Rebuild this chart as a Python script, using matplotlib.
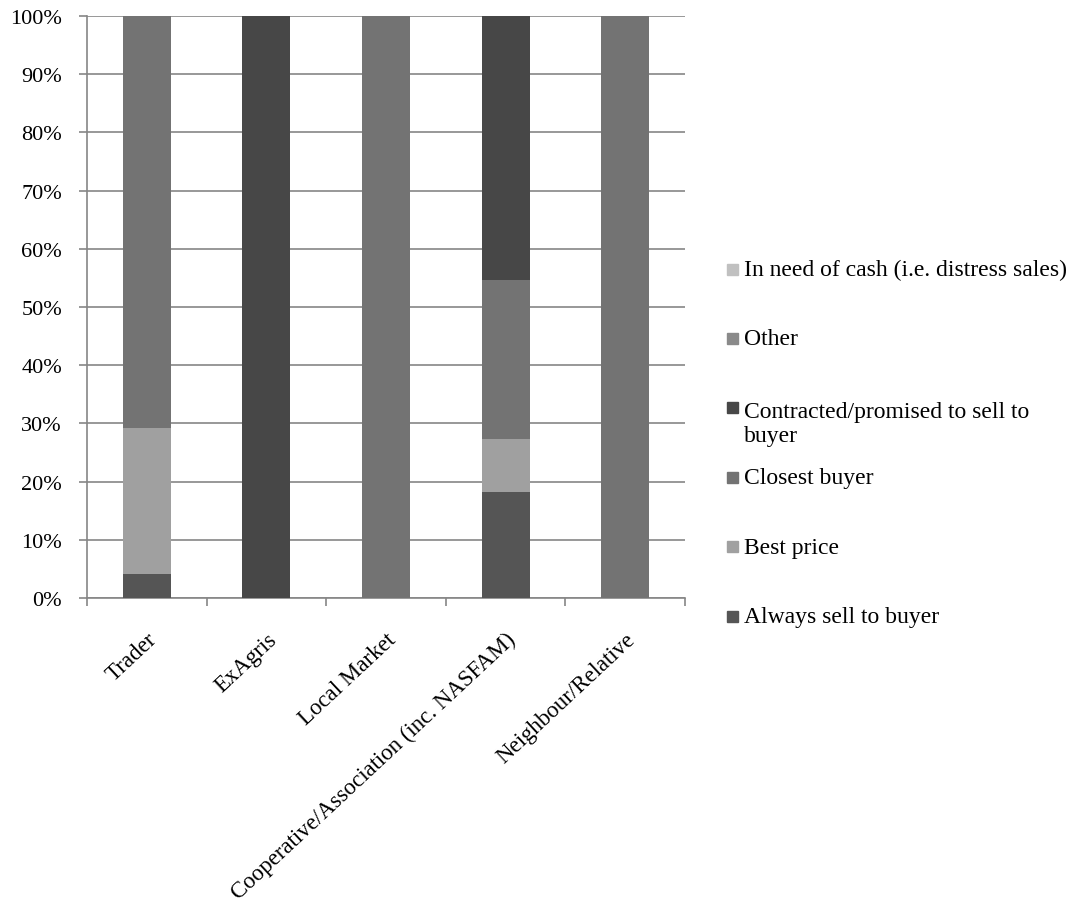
import matplotlib
matplotlib.use('Agg')
import matplotlib.pyplot as plt
from matplotlib.patches import Rectangle
from matplotlib.ticker import PercentFormatter, FixedLocator, NullFormatter
import numpy as np

# buyer types on the x axis
buyers = ['Trader', 'ExAgris', 'Local Market',
          'Cooperative/Association (inc. NASFAM)', 'Neighbour/Relative']

# share of responses per reason (%), stacked bottom to top
always_sell = [4.2, 0.0, 0.0, 18.2, 0.0]
best_price = [25.0, 0.0, 0.0, 9.1, 0.0]
closest_buyer = [70.8, 0.0, 100.0, 27.3, 100.0]
contracted = [0.0, 100.0, 0.0, 45.4, 0.0]
other = [0.0, 0.0, 0.0, 0.0, 0.0]
need_cash = [0.0, 0.0, 0.0, 0.0, 0.0]

series = [
    ('Always sell to buyer', always_sell, '#555555'),
    ('Best price', best_price, '#a0a0a0'),
    ('Closest buyer', closest_buyer, '#737373'),
    ('Contracted/promised to sell to\nbuyer', contracted, '#474747'),
    ('Other', other, '#8a8a8a'),
    ('In need of cash (i.e. distress sales)', need_cash, '#c0c0c0'),
]

plt.rcParams['font.family'] = ['Liberation Serif', 'DejaVu Serif']
W, H = 1075, 912

fig = plt.figure(figsize=(W / 100, H / 100), dpi=100)
ax = fig.add_axes([87 / W, 1 - 599 / H, 598 / W, 582 / H])

x = np.arange(len(buyers))
bottom = np.zeros(len(buyers))
for label, vals, col in series:
    vals = np.array(vals)
    ax.bar(x, vals, width=0.4, bottom=bottom, color=col, edgecolor='none', zorder=3)
    bottom += vals

ax.set_xlim(-0.5, len(buyers) - 0.5)
ax.set_ylim(0, 100)
ax.set_yticks(np.arange(0, 101, 10))
ax.yaxis.set_major_formatter(PercentFormatter(decimals=0))
ax.yaxis.grid(True, color='#868686', linewidth=1.2, zorder=0)

# ticks between categories, labels at centres
ax.xaxis.set_major_locator(FixedLocator(np.arange(-0.5, len(buyers), 1)))
ax.xaxis.set_major_formatter(NullFormatter())
ax.xaxis.set_minor_locator(FixedLocator(x))
ax.set_xticklabels(buyers, minor=True, rotation=43, ha='right',
                   rotation_mode='anchor', fontsize=16.5)
ax.tick_params(axis='x', which='minor', length=0, pad=22)
ax.tick_params(axis='x', which='major', length=6, color='#868686', width=1.2)
ax.tick_params(axis='y', length=6, color='#868686', width=1.2, labelsize=16, pad=12)

for side in ['top', 'right']:
    ax.spines[side].set_visible(False)
for side in ['left', 'bottom']:
    ax.spines[side].set_color('#868686')
    ax.spines[side].set_linewidth(1.2)

# legend drawn by hand, fixed spacing like the original
y0, step, line_h = 270, 69.4, 27
for i, (label, vals, col) in enumerate(reversed(series)):
    yc = y0 + i * step
    extra = label.count('\n') * line_h
    fig.patches.append(Rectangle((727 / W, 1 - (yc + 5.5) / H), 11 / W, 11 / H,
                                 transform=fig.transFigure, color=col))
    fig.text(744 / W, 1 - (yc + 6 + extra) / H, label, fontsize=17,
             va='baseline', ha='left', linespacing=1.15)

fig.savefig('out.png', dpi=100)
